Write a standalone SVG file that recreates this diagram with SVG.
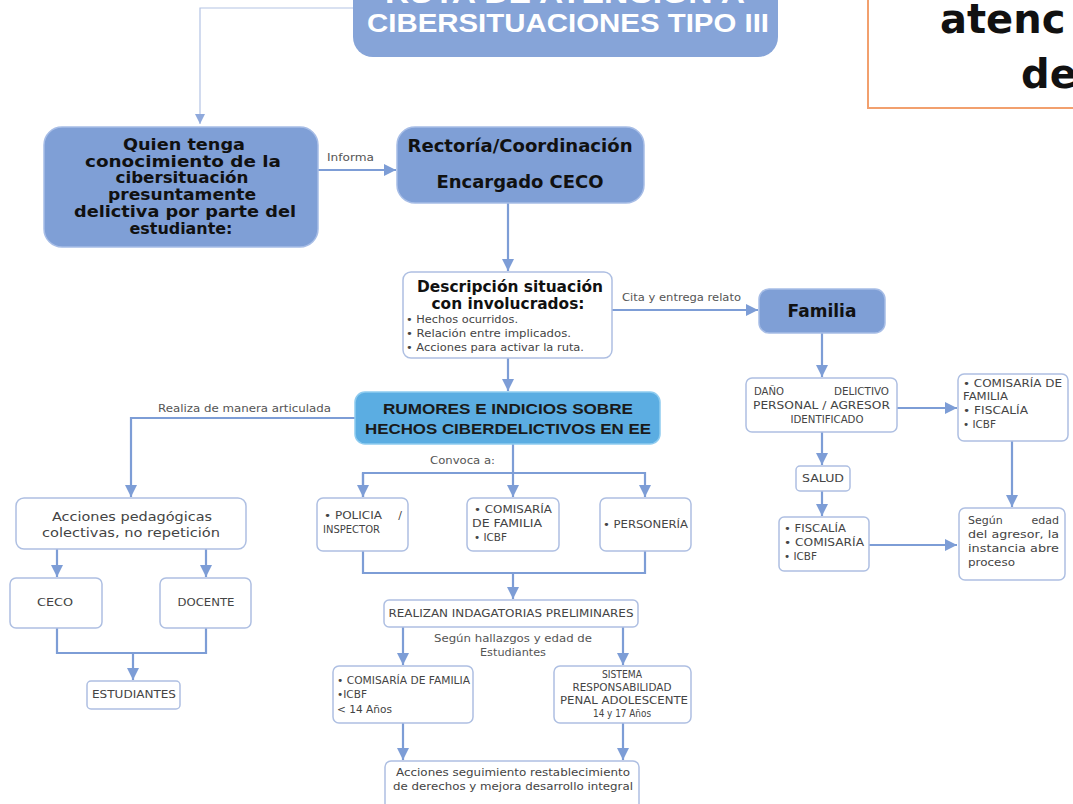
<svg xmlns="http://www.w3.org/2000/svg" width="1073" height="804" viewBox="0 0 1073 804">
<defs>
<style>
.bb{fill:#7f9fd6;stroke:#a7bde6;stroke-width:1.5}
.wb{fill:#ffffff;stroke:#aebfe2;stroke-width:1.5}
.c{fill:none;stroke:#7d9dd6;stroke-width:2.2}
.ct{fill:none;stroke:#b4c4e4;stroke-width:1.2}
.h{font-family:"DejaVu Sans",Verdana,sans-serif;font-weight:bold;fill:#111}
.s{font-family:"DejaVu Sans",Verdana,sans-serif;fill:#444;font-size:11px}
.l{font-family:"DejaVu Sans",Verdana,sans-serif;fill:#555;font-size:10.5px}
</style>
<marker id="a" markerUnits="userSpaceOnUse" markerWidth="14" markerHeight="12" refX="12" refY="6" orient="auto">
<path d="M0,0 L12,6 L0,12 Z" fill="#7d9dd6"/>
</marker>
<marker id="at" markerUnits="userSpaceOnUse" markerWidth="12" markerHeight="12" refX="10" refY="5" orient="auto">
<path d="M0,0 L10,5 L0,10 Z" fill="#8fa9dc"/>
</marker>
</defs>
<rect width="1073" height="804" fill="#ffffff"/>

<g id="connectors">
<path class="ct" d="M353,8 L200,8 L200,124" marker-end="url(#at)"/>
<path class="c" d="M318,170 L396,170" marker-end="url(#a)"/>
<path class="c" d="M508,203 L508,271" marker-end="url(#a)"/>
<path class="c" d="M612,310 L758,310" marker-end="url(#a)"/>
<path class="c" d="M822,333 L822,377" marker-end="url(#a)"/>
<path class="c" d="M897,408 L957,408" marker-end="url(#a)"/>
<path class="c" d="M822,432 L822,465" marker-end="url(#a)"/>
<path class="c" d="M822,491 L822,516" marker-end="url(#a)"/>
<path class="c" d="M869,545 L957,545" marker-end="url(#a)"/>
<path class="c" d="M1012,441 L1012,507" marker-end="url(#a)"/>
<path class="c" d="M508,358 L508,391" marker-end="url(#a)"/>
<path class="c" d="M355,418 L131,418 L131,497" marker-end="url(#a)"/>
<path class="c" d="M57,549 L57,577" marker-end="url(#a)"/>
<path class="c" d="M206,549 L206,577" marker-end="url(#a)"/>
<path class="c" d="M57,628 L57,653 L206,653 L206,628"/>
<path class="c" d="M133,653 L133,680" marker-end="url(#a)"/>
<path class="c" d="M513,444 L513,497" marker-end="url(#a)"/>
<path class="c" d="M363,497 L363,473 L645,473 L645,497" marker-end="url(#a)"/>
<path class="c" d="M363,473 L363,497" marker-end="url(#a)"/>
<path class="c" d="M363,551 L363,573 L645,573 L645,551"/>
<path class="c" d="M513,573 L513,599" marker-end="url(#a)"/>
<path class="c" d="M403,627 L403,665" marker-end="url(#a)"/>
<path class="c" d="M623,627 L623,665" marker-end="url(#a)"/>
<path class="c" d="M403,723 L403,760" marker-end="url(#a)"/>
<path class="c" d="M623,723 L623,760" marker-end="url(#a)"/>
<text class="l" x="327" y="161" textLength="47" lengthAdjust="spacingAndGlyphs">Informa</text>
<text class="l" x="622" y="301" textLength="119" lengthAdjust="spacingAndGlyphs">Cita y entrega relato</text>
<text class="l" x="158" y="412" textLength="173" lengthAdjust="spacingAndGlyphs">Realiza de manera articulada</text>
<text class="l" x="430" y="464" textLength="65" lengthAdjust="spacingAndGlyphs">Convoca a:</text>
<text class="l" x="513" y="642" text-anchor="middle" textLength="158" lengthAdjust="spacingAndGlyphs">Según hallazgos y edad de</text>
<text class="l" x="513" y="656" text-anchor="middle" textLength="66" lengthAdjust="spacingAndGlyphs">Estudiantes</text>
</g>

<g id="title">
<rect x="353" y="-30" width="425" height="87" rx="20" fill="#86a4d8"/>
<text x="565" y="3" text-anchor="middle" font-family="Liberation Sans,Arial,sans-serif" font-weight="bold" font-size="27" fill="#ffffff" textLength="360" lengthAdjust="spacingAndGlyphs">RUTA DE ATENCIÓN A</text>
<text x="568" y="32" text-anchor="middle" font-family="Liberation Sans,Arial,sans-serif" font-weight="bold" font-size="26" fill="#ffffff" textLength="402" lengthAdjust="spacingAndGlyphs">CIBERSITUACIONES TIPO III</text>
</g>

<g id="side-title">
<rect x="868" y="-10" width="215" height="118" fill="none" stroke="#f2a06e" stroke-width="2"/>
<text x="940" y="33" font-family="DejaVu Sans,sans-serif" font-weight="bold" font-size="40" fill="#111">atenc</text>
<text x="1021" y="88" font-family="DejaVu Sans,sans-serif" font-weight="bold" font-size="40" fill="#111">de</text>
</g>

<g id="n-quien">
<rect class="bb" x="44" y="127" width="274" height="120" rx="18"/>
<g class="h" font-size="15.5" text-anchor="middle">
<text x="184" y="150" textLength="122" lengthAdjust="spacingAndGlyphs">Quien tenga</text>
<text x="183" y="167" textLength="196" lengthAdjust="spacingAndGlyphs">conocimiento de la</text>
<text x="182" y="183" textLength="133" lengthAdjust="spacingAndGlyphs">cibersituación</text>
<text x="182" y="200" textLength="148" lengthAdjust="spacingAndGlyphs">presuntamente</text>
<text x="185" y="217" textLength="222" lengthAdjust="spacingAndGlyphs">delictiva por parte del</text>
<text x="181" y="234" textLength="103" lengthAdjust="spacingAndGlyphs">estudiante:</text>
</g>
</g>

<g id="n-rectoria">
<rect class="bb" x="397" y="127" width="247" height="76" rx="18"/>
<g class="h" font-size="17" text-anchor="middle">
<text x="520" y="152" textLength="225" lengthAdjust="spacingAndGlyphs">Rectoría/Coordinación</text>
<text x="520" y="188" textLength="167" lengthAdjust="spacingAndGlyphs">Encargado CECO</text>
</g>
</g>

<g id="n-descripcion">
<rect class="wb" x="403" y="272" width="209" height="86" rx="8"/>
<g class="h" font-size="15" text-anchor="middle">
<text x="510" y="292" textLength="186" lengthAdjust="spacingAndGlyphs">Descripción situación</text>
<text x="508" y="309" textLength="153" lengthAdjust="spacingAndGlyphs">con involucrados:</text>
</g>
<text class="s" x="406" y="323" textLength="112" lengthAdjust="spacingAndGlyphs">• Hechos ocurridos.</text>
<text class="s" x="406" y="337" textLength="165" lengthAdjust="spacingAndGlyphs">• Relación entre implicados.</text>
<text class="s" x="406" y="351" textLength="178" lengthAdjust="spacingAndGlyphs">• Acciones para activar la ruta.</text>
</g>

<g id="n-familia">
<rect class="bb" x="759" y="289" width="126" height="44" rx="10"/>
<text class="h" x="822" y="317" font-size="17" text-anchor="middle">Familia</text>
</g>

<g id="n-dano">
<rect class="wb" x="746" y="378" width="151" height="54" rx="6"/>
<text class="s" x="754" y="395" textLength="30" lengthAdjust="spacingAndGlyphs">DAÑO</text>
<text class="s" x="889" y="395" text-anchor="end" textLength="55" lengthAdjust="spacingAndGlyphs">DELICTIVO</text>
<text class="s" x="753" y="409" textLength="137" lengthAdjust="spacingAndGlyphs">PERSONAL / AGRESOR</text>
<text class="s" x="827" y="423" text-anchor="middle" textLength="73" lengthAdjust="spacingAndGlyphs">IDENTIFICADO</text>
</g>

<g id="n-comisaria-r">
<rect class="wb" x="958" y="374" width="110" height="67" rx="6"/>
<text class="s" x="963" y="387" textLength="99" lengthAdjust="spacingAndGlyphs">• COMISARÍA DE</text>
<text class="s" x="963" y="400" textLength="45" lengthAdjust="spacingAndGlyphs">FAMILIA</text>
<text class="s" x="963" y="414" textLength="65" lengthAdjust="spacingAndGlyphs">• FISCALÍA</text>
<text class="s" x="963" y="428" textLength="33" lengthAdjust="spacingAndGlyphs">• ICBF</text>
</g>

<g id="n-salud">
<rect class="wb" x="796" y="466" width="54" height="25" rx="4"/>
<text class="s" x="823" y="482" text-anchor="middle" textLength="42" lengthAdjust="spacingAndGlyphs">SALUD</text>
</g>

<g id="n-fiscalia">
<rect class="wb" x="779" y="517" width="90" height="54" rx="5"/>
<text class="s" x="784" y="532" textLength="62" lengthAdjust="spacingAndGlyphs">• FISCALÍA</text>
<text class="s" x="784" y="546" textLength="80" lengthAdjust="spacingAndGlyphs">• COMISARÍA</text>
<text class="s" x="784" y="560" textLength="33" lengthAdjust="spacingAndGlyphs">• ICBF</text>
</g>

<g id="n-segun">
<rect class="wb" x="959" y="508" width="106" height="72" rx="6"/>
<text class="s" x="968" y="524">Según</text>
<text class="s" x="1059" y="524" text-anchor="end">edad</text>
<text class="s" x="968" y="538" textLength="91" lengthAdjust="spacingAndGlyphs">del agresor, la</text>
<text class="s" x="968" y="552" textLength="91" lengthAdjust="spacingAndGlyphs">instancia abre</text>
<text class="s" x="968" y="566" textLength="47" lengthAdjust="spacingAndGlyphs">proceso</text>
</g>

<g id="n-rumores">
<rect x="355" y="392" width="305" height="52" rx="10" fill="#5badE2" stroke="#8ecbef" stroke-width="1.5"/>
<g font-family="Liberation Sans,Arial,sans-serif" font-weight="bold" font-size="15" text-anchor="middle" fill="#1a1a1a">
<text x="508" y="414" textLength="250" lengthAdjust="spacingAndGlyphs">RUMORES E INDICIOS SOBRE</text>
<text x="508" y="434" textLength="286" lengthAdjust="spacingAndGlyphs">HECHOS CIBERDELICTIVOS EN EE</text>
</g>
</g>

<g id="n-acciones-ped">
<rect class="wb" x="16" y="498" width="230" height="51" rx="8"/>
<text class="s" x="132" y="521" style="font-size:13px" text-anchor="middle" textLength="160" lengthAdjust="spacingAndGlyphs">Acciones pedagógicas</text>
<text class="s" x="131" y="537" style="font-size:13px" text-anchor="middle" textLength="178" lengthAdjust="spacingAndGlyphs">colectivas, no repetición</text>
</g>

<g id="n-ceco">
<rect class="wb" x="10" y="578" width="92" height="50" rx="6"/>
<text class="s" x="55" y="606" text-anchor="middle" textLength="36" lengthAdjust="spacingAndGlyphs">CECO</text>
</g>

<g id="n-docente">
<rect class="wb" x="160" y="578" width="91" height="50" rx="6"/>
<text class="s" x="206" y="606" text-anchor="middle" textLength="57" lengthAdjust="spacingAndGlyphs">DOCENTE</text>
</g>

<g id="n-estudiantes">
<rect class="wb" x="87" y="681" width="93" height="28" rx="4"/>
<text class="s" x="134" y="698" text-anchor="middle" textLength="84" lengthAdjust="spacingAndGlyphs">ESTUDIANTES</text>
</g>

<g id="n-policia">
<rect class="wb" x="317" y="498" width="91" height="53" rx="6"/>
<text class="s" x="324" y="519" textLength="58" lengthAdjust="spacingAndGlyphs">•  POLICIA</text>
<text class="s" x="402" y="519" text-anchor="end">/</text>
<text class="s" x="323" y="533" textLength="57" lengthAdjust="spacingAndGlyphs">INSPECTOR</text>
</g>

<g id="n-comisaria-c">
<rect class="wb" x="467" y="498" width="92" height="53" rx="6"/>
<text class="s" x="474" y="513" textLength="78" lengthAdjust="spacingAndGlyphs">• COMISARÍA</text>
<text class="s" x="472" y="527" textLength="70" lengthAdjust="spacingAndGlyphs">DE FAMILIA</text>
<text class="s" x="474" y="541" textLength="33" lengthAdjust="spacingAndGlyphs">• ICBF</text>
</g>

<g id="n-personeria">
<rect class="wb" x="600" y="498" width="91" height="53" rx="6"/>
<text class="s" x="603" y="528" textLength="85" lengthAdjust="spacingAndGlyphs">• PERSONERÍA</text>
</g>

<g id="n-realizan">
<rect class="wb" x="384" y="600" width="254" height="27" rx="5"/>
<text class="s" x="511" y="617" text-anchor="middle" textLength="245" lengthAdjust="spacingAndGlyphs">REALIZAN INDAGATORIAS PRELIMINARES</text>
</g>

<g id="n-comisaria-b">
<rect class="wb" x="333" y="666" width="140" height="57" rx="6"/>
<text class="s" x="337" y="684" textLength="133" lengthAdjust="spacingAndGlyphs">• COMISARÍA DE FAMILIA</text>
<text class="s" x="337" y="698" textLength="30" lengthAdjust="spacingAndGlyphs">•ICBF</text>
<text class="s" x="337" y="713" textLength="55" lengthAdjust="spacingAndGlyphs">&lt; 14 Años</text>
</g>

<g id="n-sistema">
<rect class="wb" x="554" y="666" width="137" height="57" rx="6"/>
<g class="s" text-anchor="middle">
<text x="622" y="678" textLength="40" lengthAdjust="spacingAndGlyphs">SISTEMA</text>
<text x="622" y="691" textLength="99" lengthAdjust="spacingAndGlyphs">RESPONSABILIDAD</text>
<text x="624" y="704" textLength="128" lengthAdjust="spacingAndGlyphs">PENAL  ADOLESCENTE</text>
<text x="622" y="717" textLength="58" lengthAdjust="spacingAndGlyphs">14 y 17 Años</text>
</g>
</g>

<g id="n-acciones-seg">
<rect class="wb" x="385" y="761" width="254" height="50" rx="6"/>
<text class="s" x="513" y="776" text-anchor="middle" textLength="234" lengthAdjust="spacingAndGlyphs">Acciones seguimiento restablecimiento</text>
<text class="s" x="513" y="790" text-anchor="middle" textLength="240" lengthAdjust="spacingAndGlyphs">de derechos y mejora desarrollo integral</text>
</g>
</svg>
